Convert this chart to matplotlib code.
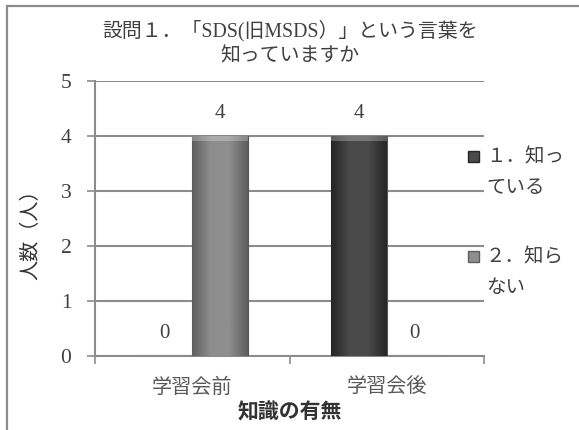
import numpy as np
import matplotlib
matplotlib.use("Agg")
import matplotlib.pyplot as plt
from matplotlib.patches import Rectangle
from matplotlib.colors import LinearSegmentedColormap

plt.rcParams['font.family'] = ['Liberation Serif', 'Noto Sans CJK JP', 'DejaVu Sans']

title = "設問１．「SDS(旧MSDS）」という言葉を\n知っていますか"
categories = ["学習会前", "学習会後"]
series_names = ["１．知っ\nている", "２．知ら\nない"]
series_values = [[0, 4], [4, 0]]
series_colors = [("#262626", "#4a4a4a"), ("#5e5e5e", "#8e8e8e")]
y_label = "人数（人）"
x_label = "知識の有無"
y_ticks = [0, 1, 2, 3, 4, 5]

W, H = 579, 430
fig = plt.figure(figsize=(W / 100, H / 100), dpi=100)
fig.patch.set_facecolor("white")

# outer frame (only left and top visible in reference)
fig.add_artist(Rectangle((7 / W, -0.1), 1.2, (430 - 6) / H + 0.1, transform=fig.transFigure,
                         fill=False, edgecolor="#8c8c8c", linewidth=1.6))

ax = fig.add_axes([95 / W, (H - 356) / H, (484 - 95) / W, (356 - 81) / H])
ax.set_xlim(-0.5, len(categories) - 0.5)
ax.set_ylim(0, 5)

grid_c = "#8c8c8c"
ax.set_yticks(y_ticks)
ax.yaxis.grid(True, color=grid_c, linewidth=1.5)
ax.set_axisbelow(True)
for s in ["top", "right"]:
    ax.spines[s].set_visible(False)
for s in ["left", "bottom"]:
    ax.spines[s].set_color(grid_c)
    ax.spines[s].set_linewidth(1.5)

x = np.arange(len(categories))
bw = 56 / 194.5
offsets = [-bw / 2, bw / 2]

for si, (vals, (c_dark, c_light)) in enumerate(zip(series_values, series_colors)):
    bars = ax.bar(x + offsets[si], vals, width=bw, color=c_light, edgecolor="#555555",
                  linewidth=0.8, zorder=3)
    cmap = LinearSegmentedColormap.from_list("g", [c_dark, c_light, c_light, c_dark])
    grad = np.linspace(0, 1, 64).reshape(1, -1)
    for b, v in zip(bars, vals):
        if v > 0:
            im = ax.imshow(grad, cmap=cmap, aspect="auto", zorder=3.5,
                           extent=(b.get_x(), b.get_x() + b.get_width(), 0, b.get_height()))
            im.set_clip_path(b)
            ax.add_patch(Rectangle((b.get_x(), b.get_height() - 0.09), b.get_width(), 0.09,
                                   facecolor="white", alpha=0.25, edgecolor="none", zorder=4))
        ax.annotate(str(v), (b.get_x() + b.get_width() / 2, v), xytext=(0, 23),
                    textcoords="offset pixels",
                    ha="center", va="center", fontsize=15, color="#404040")

ax.set_xticks(x)
ax.set_xticklabels(categories, fontsize=14.5, color="#595959")
ax.tick_params(axis="x", length=0, pad=16)
ax.set_xticks(np.arange(-0.5, len(categories), 1.0), minor=True)
ax.tick_params(axis="x", which="minor", length=6, color=grid_c, width=1.2)
ax.tick_params(axis="y", length=6, color=grid_c, width=1.2, labelsize=15.5,
               labelcolor="#404040", pad=11)

ax.set_xlabel(x_label, fontsize=15, fontweight="bold", color="#333333", labelpad=3,
              family=['Noto Sans CJK JP'])
ax.set_ylabel(y_label, fontsize=14.5, color="#333333")
ax.yaxis.set_label_coords(-(95 - 41) / (484 - 95), (356 - 230) / (356 - 81))

fig.text(290 / W, 1 - 43 / H, title, ha="center", va="center", fontsize=14.3,
         color="#404040", linespacing=1.4)

# legend (manual)
leg_y = [157, 257]
line_gap = 31
for (c_dark, c_light), name, yy in zip(series_colors, series_names, leg_y):
    fig.add_artist(Rectangle((468 / W, 1 - (yy + 5) / H), 11 / W, 11 / H,
                             transform=fig.transFigure, facecolor=c_light,
                             edgecolor=c_dark, linewidth=1))
    for li, line in enumerate(name.split("\n")):
        fig.text(486 / W, 1 - (yy + li * line_gap) / H, line, ha="left", va="center",
                 fontsize=14, color="#404040")

fig.savefig("out.png", dpi=100)
